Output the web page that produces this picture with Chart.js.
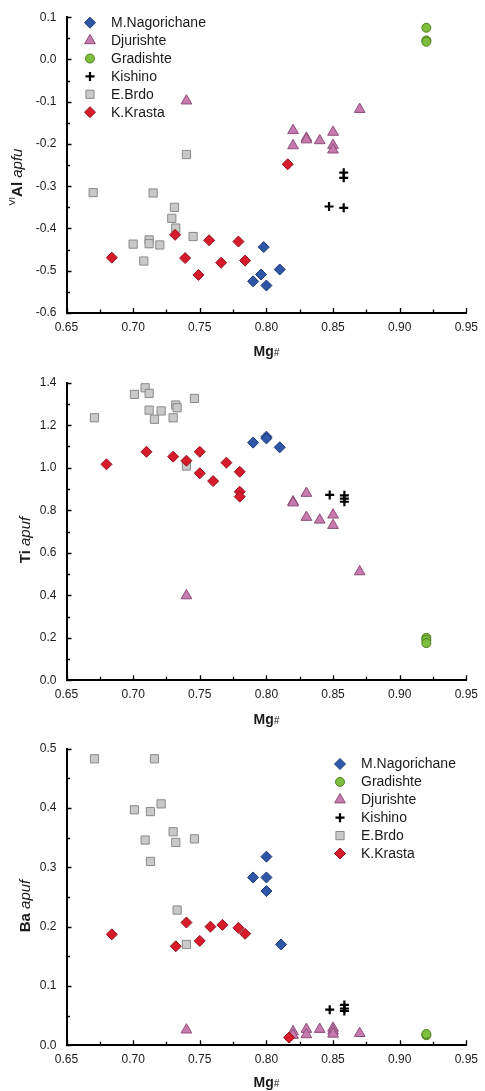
<!DOCTYPE html>
<html>
<head>
<meta charset="utf-8">
<script src="https://cdn.jsdelivr.net/npm/chart.js@4.4.1/dist/chart.umd.min.js"></script>
<style>
  html, body { margin: 0; padding: 0; background: #fff; }
  #wrap { position: relative; width: 485px; height: 1091px; }
  canvas { position: absolute; left: 0; }
</style>
</head>
<body>
<div id="wrap">
  <canvas id="alChart" style="top:0px;width:485px;height:362px" width="485" height="362"></canvas>
  <canvas id="tiChart" style="top:362px;width:485px;height:366px" width="485" height="366"></canvas>
  <canvas id="baChart" style="top:728px;width:485px;height:363px" width="485" height="363"></canvas>
</div>
<script>
// ---- data ----
var groups = ['M.Nagorichane', 'Djurishte', 'Gradishte', 'Kishino', 'E.Brdo', 'K.Krasta'];
var xTicks = [0.65, 0.70, 0.75, 0.80, 0.85, 0.90, 0.95];
var alTicks = [-0.6, -0.5, -0.4, -0.3, -0.2, -0.1, 0.0, 0.1];
var tiTicks = [0.0, 0.2, 0.4, 0.6, 0.8, 1.0, 1.2, 1.4];
var baTicks = [0.0, 0.1, 0.2, 0.3, 0.4, 0.5];

// VI-Al vs Mg#
var nagAlX = [0.798, 0.790, 0.796, 0.800, 0.810];
var nagAlY = [-0.444, -0.525, -0.509, -0.535, -0.497];
var djuAlX = [0.740, 0.870, 0.820, 0.820, 0.830, 0.830, 0.840, 0.850, 0.850, 0.850];
var djuAlY = [-0.098, -0.118, -0.168, -0.204, -0.186, -0.190, -0.192, -0.172, -0.203, -0.214];
var graAlX = [0.920, 0.920, 0.920];
var graAlY = [0.075, 0.045, 0.042];
var kisAlX = [0.858, 0.858, 0.847, 0.858];
var kisAlY = [-0.268, -0.280, -0.348, -0.351];
var brdAlX = [0.740, 0.670, 0.715, 0.731, 0.729, 0.732, 0.745, 0.700, 0.712, 0.712, 0.720, 0.708];
var brdAlY = [-0.225, -0.315, -0.316, -0.350, -0.376, -0.399, -0.419, -0.437, -0.427, -0.436, -0.439, -0.477];
var kraAlX = [0.816, 0.684, 0.7315, 0.739, 0.749, 0.757, 0.766, 0.779, 0.784];
var kraAlY = [-0.248, -0.469, -0.415, -0.470, -0.510, -0.428, -0.481, -0.431, -0.476];

// Ti vs Mg#
var nagTiX = [0.790, 0.800, 0.800, 0.810];
var nagTiY = [1.118, 1.146, 1.138, 1.096];
var djuTiX = [0.820, 0.820, 0.830, 0.830, 0.840, 0.850, 0.850, 0.740, 0.870];
var djuTiY = [0.840, 0.835, 0.880, 0.767, 0.754, 0.778, 0.729, 0.398, 0.511];
var graTiX = [0.920, 0.920, 0.920];
var graTiY = [0.200, 0.190, 0.175];
var kisTiX = [0.8475, 0.8585, 0.8585, 0.8585];
var kisTiY = [0.872, 0.870, 0.855, 0.840];
var brdTiX = [0.671, 0.701, 0.709, 0.712, 0.712, 0.721, 0.716, 0.732, 0.733, 0.730, 0.746, 0.740];
var brdTiY = [1.235, 1.345, 1.376, 1.350, 1.271, 1.267, 1.228, 1.295, 1.282, 1.235, 1.326, 1.008];
var kraTiX = [0.680, 0.710, 0.730, 0.740, 0.750, 0.750, 0.760, 0.770, 0.780, 0.780, 0.780];
var kraTiY = [1.016, 1.075, 1.052, 1.033, 1.075, 0.974, 0.937, 1.024, 0.981, 0.887, 0.864];

// Ba vs Mg#
var nagBaX = [0.800, 0.790, 0.800, 0.800, 0.811];
var nagBaY = [0.318, 0.283, 0.283, 0.260, 0.170];
var djuBaX = [0.740, 0.820, 0.820, 0.830, 0.830, 0.840, 0.850, 0.850, 0.850, 0.870];
var djuBaY = [0.026, 0.023, 0.017, 0.027, 0.018, 0.027, 0.029, 0.024, 0.019, 0.020];
var graBaX = [0.920, 0.920];
var graBaY = [0.017, 0.019];
var kisBaX = [0.8475, 0.8585, 0.8585, 0.8585];
var kisBaY = [0.060, 0.068, 0.062, 0.058];
var brdBaX = [0.671, 0.716, 0.701, 0.713, 0.721, 0.730, 0.732, 0.746, 0.709, 0.713, 0.733, 0.740];
var brdBaY = [0.483, 0.483, 0.397, 0.394, 0.407, 0.360, 0.342, 0.348, 0.346, 0.310, 0.228, 0.170];
var kraBaX = [0.684, 0.732, 0.740, 0.750, 0.758, 0.767, 0.779, 0.784, 0.817];
var kraBaY = [0.187, 0.167, 0.207, 0.176, 0.200, 0.203, 0.198, 0.188, 0.013];

// ---- styles ----
var FONT = "'Liberation Sans', Arial, sans-serif";
var groupStyle = {
  'M.Nagorichane': { pointStyle: 'rectRot', radius: 5.5, fill: '#2F57A7', edge: '#1D3877', bw: 1 },
  'Djurishte':     { pointStyle: 'triangle', radius: 6.2, fill: '#C77AAD', edge: '#8C4F7A', bw: 1 },
  'Gradishte':     { pointStyle: 'circle', radius: 4.5, fill: '#7DBE3C', edge: '#4F7F22', bw: 1 },
  'Kishino':       { pointStyle: 'cross', radius: 4.5, fill: '#000', edge: '#000', bw: 2.2 },
  'E.Brdo':        { pointStyle: 'rect', radius: 5.8, fill: '#C9C9C9', edge: '#8A8A8A', bw: 1 },
  'K.Krasta':      { pointStyle: 'rectRot', radius: 5.5, fill: '#D81B2B', edge: '#8E1420', bw: 1 }
};

function pts(xs, ys) {
  return xs.map(function (x, i) { return { x: x, y: ys[i] }; });
}

function dataset(name, xs, ys) {
  var s = groupStyle[name];
  return {
    label: name,
    data: pts(xs, ys),
    pointStyle: s.pointStyle,
    pointRadius: s.radius,
    pointBackgroundColor: s.fill,
    pointBorderColor: s.edge,
    pointBorderWidth: s.bw,
    showLine: false
  };
}

function near(v, list) {
  return list.some(function (t) { return Math.abs(v - t) < 1e-6; });
}

function drawMarker(ctx, name, x, y) {
  var s = groupStyle[name];
  ctx.save();
  ctx.fillStyle = s.fill;
  ctx.strokeStyle = s.edge;
  ctx.lineWidth = s.bw;
  Chart.helpers.drawPoint(ctx, { pointStyle: s.pointStyle, radius: s.radius, rotation: 0, borderWidth: s.bw }, x, y);
  ctx.restore();
}

function drawParts(ctx, parts, cx, cy, rotate) {
  ctx.save();
  ctx.translate(cx, cy);
  if (rotate) ctx.rotate(-Math.PI / 2);
  ctx.fillStyle = '#1a1a1a';
  ctx.textBaseline = 'middle';
  ctx.textAlign = 'left';
  var total = 0;
  parts.forEach(function (p) { ctx.font = p.font; p.w = ctx.measureText(p.text).width; total += p.w; });
  var x = -total / 2;
  parts.forEach(function (p) { ctx.font = p.font; ctx.fillText(p.text, x, p.dy || 0); x += p.w; });
  ctx.restore();
}

// inward major/minor ticks, mixed-style titles, inset legend
var decor = {
  id: 'decor',
  afterDraw: function (chart, args, o) {
    var ctx = chart.ctx, area = chart.chartArea;
    var xs = chart.scales.x, ys = chart.scales.y;
    ctx.save();
    ctx.strokeStyle = '#000';
    ctx.lineWidth = 1.3;
    ctx.beginPath();
    xs.ticks.forEach(function (t) {
      var px = Math.round(xs.getPixelForValue(t.value)) + 0.5;
      var len = near(t.value, xTicks) ? 5 : 3.5;
      ctx.moveTo(px, area.bottom);
      ctx.lineTo(px, area.bottom - len);
    });
    ys.ticks.forEach(function (t) {
      var py = Math.round(ys.getPixelForValue(t.value)) + 0.5;
      var len = near(t.value, o.yMajor) ? 5 : 3.5;
      ctx.moveTo(area.left, py);
      ctx.lineTo(area.left + len, py);
    });
    ctx.stroke();
    ctx.restore();

    drawParts(ctx, [
      { text: 'Mg', font: 'bold 14px ' + FONT },
      { text: '#', font: 'italic 10px ' + FONT, dy: 1 }
    ], (area.left + area.right) / 2, o.xTitleY, false);
    drawParts(ctx, o.yTitle, o.yTitleX, o.yTitleY, true);

    ctx.save();
    ctx.font = '14px ' + FONT;
    ctx.fillStyle = '#1a1a1a';
    ctx.textBaseline = 'middle';
    o.legendOrder.forEach(function (name, i) {
      var y = o.legendY + i * o.legendStep;
      drawMarker(ctx, name, o.legendX, y);
      ctx.fillStyle = '#1a1a1a';
      ctx.fillText(name, o.legendX + 21, y + 0.5);
    });
    ctx.restore();
  }
};

function makeChart(id, sets, y, opts) {
  var el = document.getElementById(id);
  return new Chart(el, {
    type: 'scatter',
    data: { datasets: sets },
    options: {
      responsive: false,
      animation: false,
      events: [],
      layout: { padding: { left: 0, right: 16, top: opts.top, bottom: 0 } },
      plugins: { legend: { display: false }, tooltip: { enabled: false }, decor: opts.decor },
      scales: {
        x: {
          type: 'linear', min: 0.65, max: 0.95,
          grid: { display: false, drawTicks: false },
          border: { display: true, color: '#000', width: 2 },
          ticks: {
            stepSize: 0.025, autoSkip: false, maxRotation: 0, padding: 7,
            color: '#1a1a1a', font: { family: FONT, size: 12 },
            callback: function (v) { return near(v, xTicks) ? v.toFixed(2) : ''; }
          },
          afterFit: function (s) { s.height = opts.xHeight; }
        },
        y: {
          type: 'linear', min: y.min, max: y.max,
          grid: { display: false, drawTicks: false },
          border: { display: true, color: '#000', width: 2 },
          ticks: {
            stepSize: y.step, autoSkip: false, padding: 10,
            color: '#1a1a1a', font: { family: FONT, size: 12 },
            callback: function (v) {
              if (!near(v, y.ticks)) return '';
              return Math.abs(v) < 1e-9 ? '0.0' : v.toFixed(1);
            }
          },
          afterFit: function (s) { s.width = 66.5; }
        }
      }
    },
    plugins: [decor]
  });
}

makeChart('alChart', [
  dataset('K.Krasta', kraAlX, kraAlY),
  dataset('M.Nagorichane', nagAlX, nagAlY),
  dataset('Djurishte', djuAlX, djuAlY),
  dataset('Gradishte', graAlX, graAlY),
  dataset('Kishino', kisAlX, kisAlY),
  dataset('E.Brdo', brdAlX, brdAlY)
], { min: -0.6, max: 0.1, step: 0.05, ticks: alTicks }, {
  top: 15, xHeight: 49,
  decor: {
    yMajor: alTicks, xTitleY: 352,
    yTitle: [
      { text: 'VI', font: '9px ' + FONT, dy: -5 },
      { text: 'Al', font: 'bold 15px ' + FONT },
      { text: ' apfu', font: 'italic 15px ' + FONT }
    ],
    yTitleX: 18, yTitleY: 177,
    legendOrder: groups, legendX: 90, legendY: 22.7, legendStep: 17.9
  }
});

makeChart('tiChart', [
  dataset('K.Krasta', kraTiX, kraTiY),
  dataset('M.Nagorichane', nagTiX, nagTiY),
  dataset('Djurishte', djuTiX, djuTiY),
  dataset('Gradishte', graTiX, graTiY),
  dataset('Kishino', kisTiX, kisTiY),
  dataset('E.Brdo', brdTiX, brdTiY)
], { min: 0, max: 1.4, step: 0.1, ticks: tiTicks }, {
  top: 20.7, xHeight: 47.7,
  decor: {
    yMajor: tiTicks, xTitleY: 358,
    yTitle: [
      { text: 'Ti', font: 'bold 15px ' + FONT },
      { text: ' apuf', font: 'italic 15px ' + FONT }
    ],
    yTitleX: 26, yTitleY: 178,
    legendOrder: [], legendX: 0, legendY: 0, legendStep: 0
  }
});

makeChart('baChart', [
  dataset('K.Krasta', kraBaX, kraBaY),
  dataset('M.Nagorichane', nagBaX, nagBaY),
  dataset('Djurishte', djuBaX, djuBaY),
  dataset('Gradishte', graBaX, graBaY),
  dataset('Kishino', kisBaX, kisBaY),
  dataset('E.Brdo', brdBaX, brdBaY)
], { min: 0, max: 0.5, step: 0.05, ticks: baTicks }, {
  top: 20.7, xHeight: 45.7,
  decor: {
    yMajor: baTicks, xTitleY: 355,
    yTitle: [
      { text: 'Ba', font: 'bold 15px ' + FONT },
      { text: ' apuf', font: 'italic 15px ' + FONT }
    ],
    yTitleX: 26, yTitleY: 178,
    legendOrder: ['M.Nagorichane', 'Gradishte', 'Djurishte', 'Kishino', 'E.Brdo', 'K.Krasta'],
    legendX: 340, legendY: 36, legendStep: 17.9
  }
});
</script>
</body>
</html>
